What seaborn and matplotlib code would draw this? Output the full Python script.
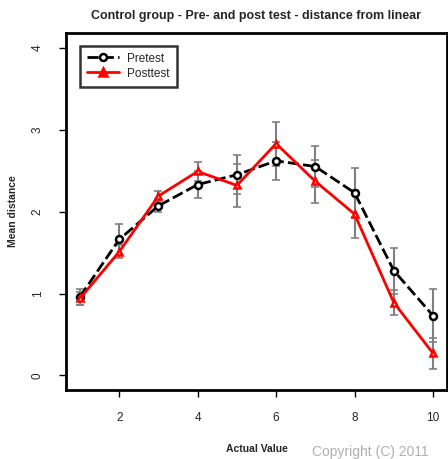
import matplotlib
matplotlib.use("Agg")
import matplotlib.pyplot as plt
import seaborn as sns
import pandas as pd
import numpy as np
from matplotlib.lines import Line2D

actual = [1, 2, 3, 4, 5, 6, 7, 8, 9, 10]
pretest = [0.96, 1.66, 2.07, 2.33, 2.45, 2.62, 2.55, 2.23, 1.28, 0.73]
pretest_err = [0.10, 0.19, 0.08, 0.17, 0.24, 0.23, 0.25, 0.30, 0.28, 0.32]
posttest = [0.94, 1.51, 2.19, 2.49, 2.32, 2.83, 2.37, 1.97, 0.89, 0.27]
posttest_err = [0.08, 0.08, 0.06, 0.12, 0.26, 0.27, 0.26, 0.29, 0.15, 0.19]
xticks = [2, 4, 6, 8, 10]
yticks = [0, 1, 2, 3, 4]

sns.set_style("white")
plt.rcParams['font.family'] = ['Liberation Sans', 'DejaVu Sans']

df = pd.DataFrame({
    "Actual Value": actual * 2,
    "Mean distance": pretest + posttest,
    "group": ["Pretest"] * 10 + ["Posttest"] * 10,
})

fig = plt.figure(figsize=(4.48, 4.59), dpi=100)
ax = fig.add_axes([0.147, 0.150, 0.851, 0.778])

# error bars
for vals, errs in [(pretest, pretest_err), (posttest, posttest_err)]:
    ax.errorbar(actual, vals, yerr=errs, fmt='none', ecolor='#808080',
                elinewidth=1.5, capsize=3, capthick=1.2, zorder=2)

n_before = len(ax.lines)
sns.lineplot(data=df, x="Actual Value", y="Mean distance", hue="group",
             style="group", palette={"Pretest": "black", "Posttest": "red"},
             dashes={"Pretest": (4, 1.5), "Posttest": ""},
             markers={"Pretest": "o", "Posttest": "^"},
             markersize=5, markeredgewidth=1.8,
             linewidth=2.0, ax=ax, legend=False)
for ln in ax.lines[n_before:]:
    ln.set_zorder(3)
    ln.set_markerfacecolor('white')
    ln.set_markeredgecolor(ln.get_color())

handles = [
    Line2D([], [], color='black', linestyle=(0, (4, 1.5)), linewidth=2.0,
           marker='o', markersize=5, markeredgewidth=1.8, markerfacecolor='white'),
    Line2D([], [], color='red', linestyle='-', linewidth=2.0,
           marker='^', markersize=6, markeredgewidth=1.8, markerfacecolor='red'),
]
leg = ax.legend(handles, ["Pretest", "Posttest"], loc='upper left',
                bbox_to_anchor=(0.037, 0.965), frameon=True, fancybox=False,
                edgecolor='black', fontsize=8.5, handlelength=2.7,
                borderpad=0.6, labelspacing=0.25, handletextpad=0.7,
                borderaxespad=0)
leg.get_frame().set_linewidth(1.8)

ax.set_xlim(0.64, 10.36)
ax.set_ylim(-0.18, 4.18)
ax.set_xticks(xticks)
ax.set_yticks(yticks)
ax.set_xticklabels([str(v) for v in xticks], fontsize=8.5)
ax.set_yticklabels([str(v) for v in yticks], fontsize=8.5, rotation=90, va='center')
ax.tick_params(axis='both', direction='out', length=5, width=1, color='black',
               pad=11, bottom=True, left=True)
for s in ax.spines.values():
    s.set_visible(True)
    s.set_color('black')
    s.set_linewidth(2)

ax.set_xlabel("Actual Value", fontsize=7.5, fontweight='bold', labelpad=14)
ax.set_ylabel("Mean distance", fontsize=7.5, fontweight='bold', labelpad=10)
ax.set_title("Control group - Pre- and post test - distance from linear",
             fontsize=9, fontweight='bold', pad=10)

fig.text(312 / 448, 0.0, "Copyright (C) 2011", color='#b0b0b0', fontsize=10,
         ha='left', va='bottom')

fig.savefig("out.png", dpi=100)
